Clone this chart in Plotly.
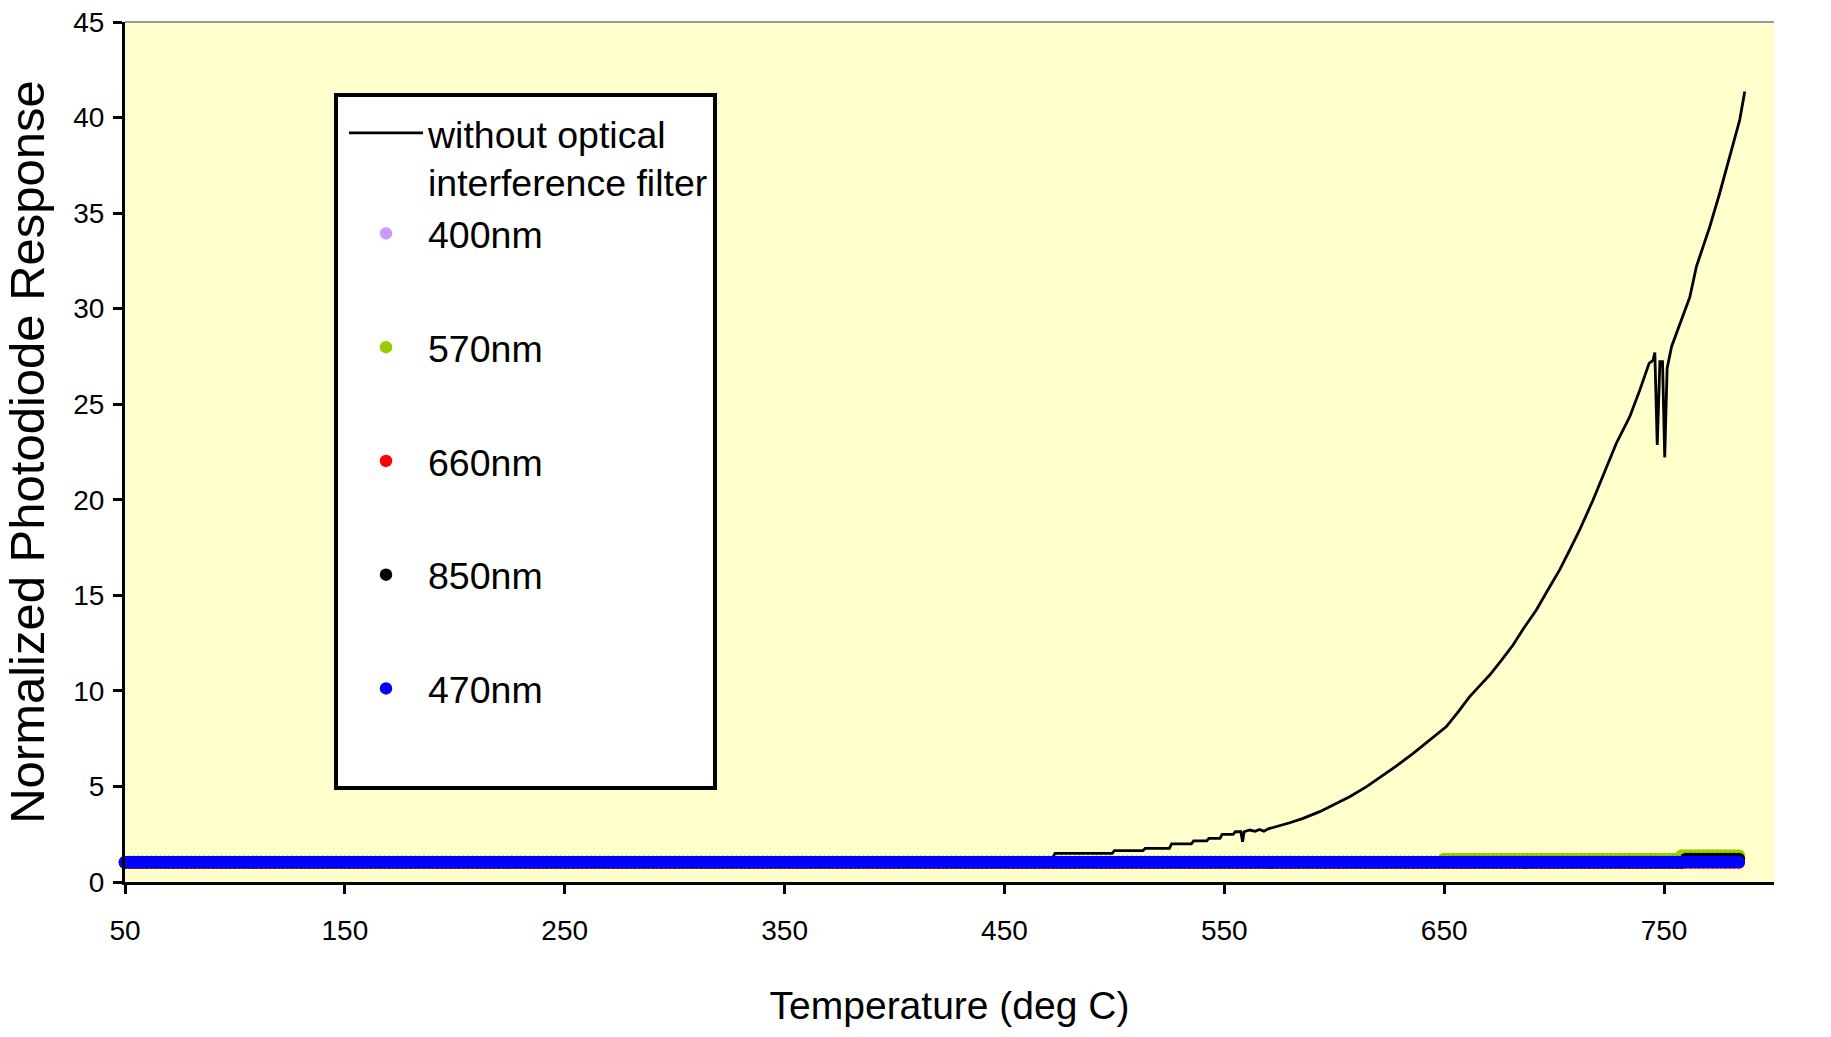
import plotly.graph_objects as go

# ---------------- data ----------------
# Reference curve: photodiode without optical interference filter
nofilter_temp = [50, 250, 400, 472, 473, 499, 500, 513, 514, 525, 526, 535, 536, 542, 543,
                 548, 549, 554, 555, 557.5, 558.3, 559, 561.6, 564, 566, 568, 570, 573.7,
                 579.8, 585.8, 593.4, 599.5, 607, 614.7, 620.7, 628, 635.9, 643, 651, 656,
                 661.6, 666, 670.7, 676, 681.3, 686, 691.9, 697, 702.5, 707, 711.6, 717.7,
                 723, 728.3, 734.4, 739, 743.2, 745.0, 745.8, 746.9, 748.1, 749.3, 750.3,
                 751.4, 753.4, 757.5, 761.7, 764.7, 770.8, 775.3, 779.9, 784.4, 786.7]
nofilter_resp = [1.00, 1.05, 1.15, 1.30, 1.50, 1.50, 1.64, 1.64, 1.76, 1.76, 1.99, 1.99, 2.15, 2.15, 2.28,
                 2.28, 2.49, 2.49, 2.63, 2.63, 2.11, 2.63, 2.72, 2.65, 2.75, 2.66, 2.78, 2.89,
                 3.10, 3.33, 3.68, 4.03, 4.46, 4.99, 5.45, 6.05, 6.73, 7.40, 8.13, 8.85,
                 9.70, 10.25, 10.83, 11.60, 12.40, 13.25, 14.23, 15.25, 16.33, 17.35, 18.42, 19.99,
                 21.50, 22.96, 24.35, 25.75, 27.14, 27.30, 27.70, 22.87, 27.23, 27.23, 22.22,
                 26.88, 28.01, 29.30, 30.60, 32.20, 34.29, 36.04, 37.95, 39.87, 41.36]

# Filtered channels: sampled temperatures and plateau levels (start temp, value)
filter_temp = list(range(50, 786, 2))
levels_400 = [(50, 1.00)]
levels_570 = [(50, 1.04), (650, 1.21), (757, 1.39)]
levels_660 = [(50, 1.02)]
levels_850 = [(50, 1.02), (759, 1.21)]
levels_470 = [(50, 1.04)]

series_names = ["400nm", "570nm", "660nm", "850nm", "470nm"]
series_levels = [levels_400, levels_570, levels_660, levels_850, levels_470]
series_colors = ["#CC99FF", "#99CC00", "#FF0000", "#000000", "#0000FF"]

x_ticks = [50, 150, 250, 350, 450, 550, 650, 750]
y_ticks = [0, 5, 10, 15, 20, 25, 30, 35, 40, 45]


def expand(levels, temps):
    out = []
    for t in temps:
        v = levels[0][1]
        for start, val in levels:
            if t >= start:
                v = val
        out.append(v)
    return out


FONT = "Liberation Sans, Arial, sans-serif"

fig = go.Figure()

fig.add_trace(go.Scatter(
    x=nofilter_temp, y=nofilter_resp, mode="lines",
    name="without optical<br>interference filter",
    line=dict(color="black", width=2.8),
    legendgroup="g1",
))

for name, lev, col in zip(series_names, series_levels, series_colors):
    fig.add_trace(go.Scatter(
        x=filter_temp, y=expand(lev, filter_temp), mode="markers",
        name=name,
        marker=dict(color=col, size=12.5, line=dict(width=0)),
        cliponaxis=False,
        legendgroup="g1" if name == "400nm" else name,
    ))

W, H = 1831, 1037
L, R, T, B = 125, 57, 22, 155
pw, ph = W - L - R, H - T - B


def px_x(p):
    return (p - L) / pw


def px_y(p):
    return (H - B - p) / ph


axis_common = dict(
    showline=True, linecolor="black", linewidth=3,
    ticks="outside", ticklen=9, tickwidth=3, tickcolor="black",
    showgrid=False, zeroline=False,
    tickfont=dict(family=FONT, size=28, color="black"),
)

fig.update_layout(
    width=W, height=H,
    margin=dict(l=L, r=R, t=T, b=B, autoexpand=False),
    paper_bgcolor="white",
    plot_bgcolor="#FFFFCC",
    xaxis=dict(
        range=[50, 800], tickvals=x_ticks, ticktext=[str(v) for v in x_ticks],
        title=dict(text="Temperature (deg C)", font=dict(family=FONT, size=39, color="black"), standoff=48),
        automargin=False, ticklabelstandoff=12, **axis_common,
    ),
    yaxis=dict(
        range=[0, 45], tickvals=y_ticks,
        title=dict(text="Normalized Photodiode Response", font=dict(family=FONT, size=49, color="black"), standoff=22),
        automargin=False, ticklabelstandoff=3, **axis_common,
    ),
    yaxis2=dict(
        range=[0, 45], tickvals=y_ticks, overlaying="y", side="right",
        automargin=False, ticklabelstandoff=3, **axis_common,
    ),
    legend=dict(
        x=px_x(344), y=px_y(102), xanchor="left", yanchor="top",
        bgcolor="rgba(0,0,0,0)", borderwidth=0,
        font=dict(family=FONT, size=37.5, color="black"),
        itemwidth=74, valign="top", traceorder="grouped", tracegroupgap=62,
    ),
    shapes=[
        dict(type="line", xref="paper", yref="paper", x0=0, x1=1, y0=1, y1=1,
             line=dict(color="#999999", width=2)),
        dict(type="rect", xref="paper", yref="paper",
             x0=px_x(336), x1=px_x(715), y0=px_y(788), y1=px_y(95),
             line=dict(color="black", width=4), fillcolor="white", layer="above"),
    ],
    showlegend=True,
)

fig.write_html("out.html")
